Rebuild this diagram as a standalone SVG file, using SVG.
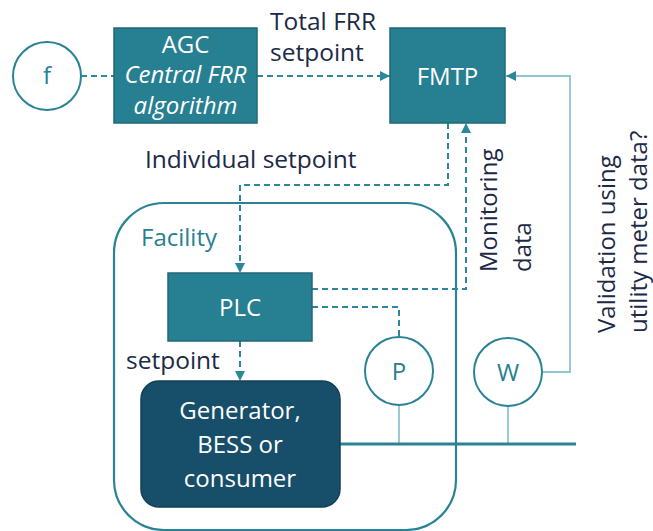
<svg xmlns="http://www.w3.org/2000/svg" width="653" height="531" viewBox="0 0 653 531">
  <style>
    text { font-family: "Open Sans", "Noto Sans", "Liberation Sans", sans-serif; }
    .box { fill: #277f92; stroke: #1f6877; stroke-width: 1.5; }
    .dev { fill: #174e69; stroke: #123f56; stroke-width: 1.5; }
    .meter { fill: #ffffff; stroke: #2a8296; stroke-width: 2; }
    .wt { fill: #ffffff; font-size: 24px; text-anchor: middle; }
    .mt { fill: #277f92; font-size: 24px; text-anchor: middle; }
    .lbl { fill: #1b2a47; font-size: 24.5px; }
    .vlbl { fill: #1b2a47; font-size: 24px; }
    .dash { fill: none; stroke: #2b8799; stroke-width: 2; stroke-dasharray: 6 4; }
    .thin { fill: none; stroke: #8fc4d0; stroke-width: 1.8; }
    .bus { fill: none; stroke: #2a8296; stroke-width: 3; }
    .frame { fill: none; stroke: #2a8296; stroke-width: 2.2; }
  </style>
  <defs>
    <marker id="arrow" markerUnits="userSpaceOnUse" markerWidth="10" markerHeight="10" viewBox="0 0 10 10" refX="10" refY="5" orient="auto">
      <path d="M0,0 L10,5 L0,10 z" fill="#2b8799"/>
    </marker>
  </defs>

  <!-- facility boundary -->
  <g id="facility">
    <rect class="frame" x="114" y="203" width="342" height="327" rx="50" ry="50"/>
    <text x="141" y="246" font-size="24" fill="#277f92">Facility</text>
  </g>

  <!-- connectors -->
  <g id="connectors">
    <path class="dash" d="M81,76 H114"/>
    <path class="dash" d="M257,76 H390" marker-end="url(#arrow)"/>
    <path class="dash" d="M448,123 V185 H240 V273" marker-end="url(#arrow)"/>
    <path class="dash" d="M312,289 H466 V123" marker-end="url(#arrow)"/>
    <path class="dash" d="M312,307 H399 V337"/>
    <path class="dash" d="M240,341 V381" marker-end="url(#arrow)"/>
    <path class="thin" d="M542,372 H570 V76 H506" marker-end="url(#arrow)"/>
    <path class="thin" d="M399,405 V444"/>
    <path class="thin" d="M508,406 V444"/>
    <path class="bus" d="M340,444 H576"/>
  </g>

  <g id="f">
    <circle class="meter" cx="47" cy="76" r="34"/>
    <text class="mt" x="47" y="84">f</text>
  </g>

  <g id="agc">
    <rect class="box" x="114" y="28" width="143" height="95"/>
    <text class="wt" x="185.5" y="53" font-size="23">AGC</text>
    <text class="wt" x="185.5" y="83" font-size="20.5" font-style="italic">Central FRR</text>
    <text class="wt" x="185.5" y="114" font-size="20.5" font-style="italic">algorithm</text>
  </g>

  <g id="fmtp">
    <rect class="box" x="390" y="28" width="115" height="95"/>
    <text class="wt" x="447.5" y="85">FMTP</text>
  </g>

  <g id="plc">
    <rect class="box" x="168" y="273" width="144" height="68"/>
    <text class="wt" x="240" y="316">PLC</text>
  </g>

  <g id="device">
    <rect class="dev" x="141" y="381" width="199" height="126" rx="18" ry="18"/>
    <text class="wt" x="240" y="419" font-size="25">Generator,</text>
    <text class="wt" x="240" y="453" font-size="25">BESS or</text>
    <text class="wt" x="240" y="487" font-size="25">consumer</text>
  </g>

  <g id="p-meter">
    <circle class="meter" cx="399" cy="371" r="34"/>
    <text class="mt" x="399" y="380">P</text>
  </g>

  <g id="w-meter">
    <circle class="meter" cx="508" cy="372" r="34"/>
    <text class="mt" x="508" y="381">W</text>
  </g>

  <!-- connector labels -->
  <g id="labels">
    <text class="lbl" x="270" y="30">Total FRR</text>
    <text class="lbl" x="270" y="61">setpoint</text>
    <text class="lbl" x="145" y="168">Individual setpoint</text>
    <text class="lbl" x="126" y="369">setpoint</text>
    <text class="vlbl" transform="translate(497,272) rotate(-90)">Monitoring</text>
    <text class="vlbl" transform="translate(531,272) rotate(-90)">data</text>
    <text class="vlbl" transform="translate(615,333) rotate(-90)">Validation using</text>
    <text class="vlbl" transform="translate(647,333) rotate(-90)">utility meter data?</text>
  </g>
</svg>
